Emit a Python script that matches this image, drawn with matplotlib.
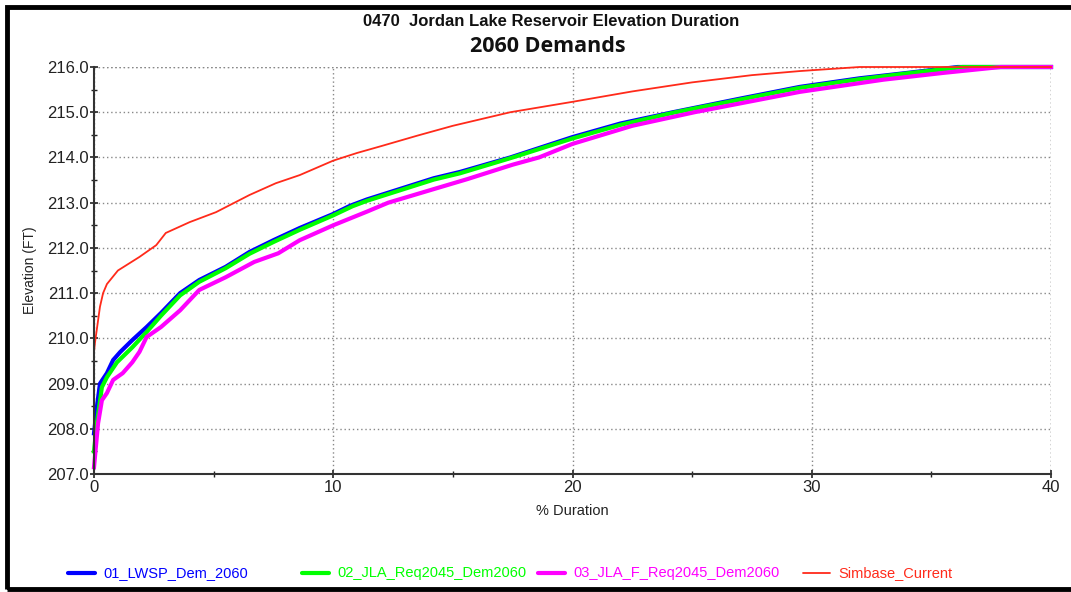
import matplotlib
matplotlib.use("Agg")
import matplotlib.pyplot as plt
from matplotlib.lines import Line2D
from matplotlib.patches import Rectangle
from matplotlib.ticker import MultipleLocator

# ---- data ----
red_x = [0.0, 0.04, 0.25, 0.38, 0.54, 1.0, 1.9, 2.6, 3.0, 4.0, 5.1, 6.5, 7.6, 8.6, 10.0,
         11.0, 12.0, 13.5, 15.0, 17.4, 20.0, 22.5, 25.0, 27.5, 29.5, 32.0, 40.0]
red_y = [209.7, 209.9, 210.7, 211.0, 211.2, 211.5, 211.8, 212.06, 212.33, 212.57, 212.79,
         213.17, 213.43, 213.61, 213.93, 214.1, 214.25, 214.48, 214.7, 215.0, 215.23, 215.46,
         215.66, 215.82, 215.91, 216.0, 216.0]

blue_x = [0.0, 0.12, 0.25, 0.54, 0.8, 1.1, 1.6, 2.2, 2.8, 3.6, 4.4, 5.5, 6.5, 7.5, 8.6,
          10.0, 10.7, 11.4, 14.2, 15.3, 17.4, 20.0, 22.0, 24.2, 27.0, 29.5, 32.0, 34.0, 36.1, 40.0]
blue_y = [207.9, 208.48, 209.0, 209.23, 209.52, 209.7, 209.96, 210.25, 210.56, 211.0, 211.29,
          211.58, 211.91, 212.17, 212.44, 212.75, 212.93, 213.07, 213.54, 213.68, 214.0, 214.45,
          214.75, 215.0, 215.3, 215.56, 215.75, 215.87, 216.0, 216.0]

green_x = [0.0, 0.12, 0.33, 0.54, 0.96, 1.6, 2.2, 2.8, 3.6, 4.4, 5.5, 6.5, 7.5, 8.6,
           10.0, 10.8, 11.4, 14.2, 15.3, 17.5, 20.0, 22.0, 24.3, 27.0, 29.5, 32.0, 34.0, 36.3, 40.0]
green_y = [207.5, 208.12, 208.92, 209.14, 209.47, 209.8, 210.14, 210.5, 210.95, 211.25,
           211.55, 211.87, 212.13, 212.4, 212.72, 212.92, 213.04, 213.51, 213.65, 214.0, 214.42,
           214.72, 215.0, 215.28, 215.54, 215.73, 215.86, 216.0, 216.0]

mag_x = [0.0, 0.17, 0.33, 0.54, 0.8, 1.2, 1.6, 1.9, 2.2, 2.8, 3.6, 4.4, 5.5, 6.7, 7.7,
         8.6, 10.0, 11.4, 12.3, 14.2, 15.6, 17.5, 18.6, 20.0, 22.5, 25.1, 29.5, 33.0, 35.5, 37.9, 40.0]
mag_y = [207.15, 208.12, 208.63, 208.79, 209.08, 209.23, 209.47, 209.7, 210.03, 210.25,
         210.62, 211.07, 211.35, 211.69, 211.88, 212.17, 212.5, 212.8, 213.0, 213.3,
         213.52, 213.84, 214.0, 214.3, 214.7, 215.0, 215.45, 215.72, 215.87, 216.0, 216.0]

labels = ["01_LWSP_Dem_2060", "02_JLA_Req2045_Dem2060", "03_JLA_F_Req2045_Dem2060", "Simbase_Current"]
colors = ["#0000ff", "#00ff00", "#ff00ff", "#ff2a1a"]

x_ticks = [0, 10, 20, 30, 40]
y_ticks = [207.0, 208.0, 209.0, 210.0, 211.0, 212.0, 213.0, 214.0, 215.0, 216.0]

# ---- figure ----
W, H = 1071, 592
fig = plt.figure(figsize=(W / 100, H / 100), dpi=100)
plt.rcParams['font.family'] = ['Liberation Sans', 'DejaVu Sans']

# outer frame (open on the right, as in the cropped screenshot)
fig.add_artist(Rectangle((6.5 / W, 1 - 588.5 / H), 1.2, (588.5 - 6.5) / H,
                         transform=fig.transFigure, fill=False, lw=3.5, ec="black"))

ax = fig.add_axes([94 / W, 1 - 474 / H, (1051 - 94) / W, (474 - 67) / H])

series = [(blue_x, blue_y), (green_x, green_y), (mag_x, mag_y), (red_x, red_y)]
widths = [3.0, 3.0, 3.0, 1.3]
for (xs, ys), c, lw, lab in zip(series, colors, widths, labels):
    ax.plot(xs, ys, color=c, lw=lw, label=lab, solid_joinstyle="round", clip_on=False)

ax.set_xlim(0, 40)
ax.set_ylim(207, 216)
ax.set_xticks(x_ticks)
ax.set_yticks(y_ticks)
ax.set_yticklabels([f"{v:.1f}" for v in y_ticks])
ax.xaxis.set_minor_locator(MultipleLocator(5))
ax.yaxis.set_minor_locator(MultipleLocator(0.5))
ax.tick_params(axis="both", which="major", direction="inout", length=6, width=1.2,
               labelsize=12, colors="#222222", pad=1)
ax.tick_params(axis="both", which="minor", direction="inout", length=4, width=1.0, colors="#222222")

for s in ["top", "right"]:
    ax.spines[s].set_visible(False)
for s in ["left", "bottom"]:
    ax.spines[s].set_color("#333333")
    ax.spines[s].set_linewidth(1.5)

ax.grid(True, which="major", linestyle=(0, (1, 2)), color="#888888", lw=1.0)
ax.axhline(216, linestyle=(0, (1, 2)), color="#888888", lw=1.0, zorder=0.5)
ax.axvline(40, linestyle=(0, (1, 2)), color="#888888", lw=1.0, zorder=0.5)
ax.set_axisbelow(True)

ax.set_ylabel("Elevation (FT)", fontsize=10, color="#222222", labelpad=7)
ax.set_xlabel("% Duration", fontsize=10.5, color="#222222", labelpad=7)

fig.text(551 / W, 1 - 22 / H, "0470  Jordan Lake Reservoir Elevation Duration",
         ha="center", va="center", fontsize=12, fontweight="bold", color="#111111")
fig.text(548 / W, 1 - 46 / H, "2060 Demands", ha="center", va="center",
         fontsize=15.5, fontweight="bold", color="#111111", family=["Open Sans", "DejaVu Sans"])

# legend entries along the bottom
leg_x = [68, 302, 538, 803]
leg_y = 1 - 573 / H
for lx, c, lw, lab in zip(leg_x, colors, widths, labels):
    fig.add_artist(Line2D([lx / W, (lx + 27) / W], [leg_y, leg_y], transform=fig.transFigure,
                          color=c, lw=lw, solid_capstyle="round"))
    fig.text((lx + 35) / W, leg_y, lab, color=c, fontsize=10.5, va="center", ha="left")

fig.savefig("out.png", dpi=100)
